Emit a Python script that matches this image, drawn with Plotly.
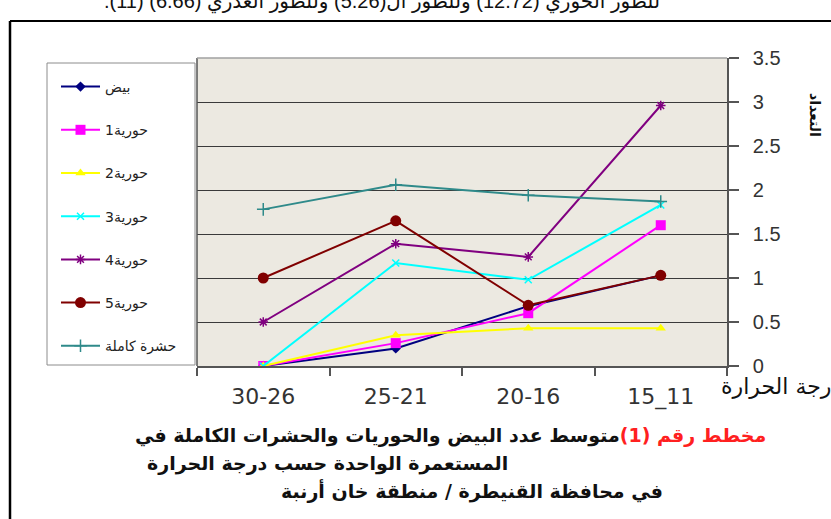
import plotly.graph_objects as go

# ---------------- data ----------------
categories = ["30-26", "25-21", "20-16", "15_11"]
eggs = [0.0, 0.20, 0.68, 1.03]
nymph1 = [0.0, 0.26, 0.60, 1.60]
nymph2 = [0.0, 0.35, 0.43, 0.43]
nymph3 = [0.0, 1.17, 0.98, 1.83]
nymph4 = [0.5, 1.39, 1.24, 2.96]
nymph5 = [1.0, 1.65, 0.69, 1.03]
adult = [1.78, 2.06, 1.94, 1.87]
series_names = ["بيض", "حورية1", "حورية2", "حورية3", "حورية4", "حورية5", "حشرة كاملة"]
y_ticks = [0, 0.5, 1, 1.5, 2, 2.5, 3, 3.5]
x_title = "درجة الحرارة"
y_title = "التعداد"
caption_red = "مخطط رقم (1)"
caption_line1 = "متوسط عدد البيض والحوريات والحشرات الكاملة في"
caption_line2 = "المستعمرة الواحدة حسب درجة الحرارة"
caption_line3 = "في محافظة القنيطرة / منطقة خان أرنبة"
top_text = "للطور الحوري (12.72) وللطور ال(5.26) وللطور العذري (6.66) (11)."

# ---------------- styles ----------------
series_values = [eggs, nymph1, nymph2, nymph3, nymph4, nymph5, adult]
colors = ["#000080", "#FF00FF", "#FFFF00", "#00FFFF", "#800080", "#800000", "#2F8A8A"]
symbols = ["diamond", "square", "triangle-up", "x-thin-open", "asterisk-open", "circle", "cross-thin-open"]
sizes = [8, 10, 9, 7, 8, 11, 9]
RLM = "\u200f"

W, H = 831, 519
L, R, T, B = 197, 727, 58, 366
PW, PH = R - L, B - T


def px(x):
    return (x - L) / PW


def py(y):
    return (B - y) / PH


fig = go.Figure()
for i, (name, vals) in enumerate(zip(series_names, series_values)):
    open_sym = symbols[i].endswith("open")
    fig.add_trace(go.Scatter(
        x=categories, y=vals, name=name, mode="lines+markers",
        legendgroup=f"g{i}",
        line=dict(color=colors[i], width=2),
        marker=dict(symbol=symbols[i], size=sizes[i], color=colors[i],
                    line=dict(color=colors[i], width=1.5 if open_sym else 0)),
    ))

arabic_font = "DejaVu Sans"

shapes = [
    # outer frame (left and top edges visible)
    dict(type="line", xref="paper", yref="paper", x0=px(10), x1=px(845), y0=py(21), y1=py(21),
         line=dict(color="black", width=2)),
    dict(type="line", xref="paper", yref="paper", x0=px(10), x1=px(10), y0=py(21), y1=py(530),
         line=dict(color="black", width=2.5)),
    # legend box
    dict(type="rect", xref="paper", yref="paper", x0=px(47), x1=px(195), y0=py(63), y1=py(365),
         line=dict(color="#8c8c8c", width=1), fillcolor="white", layer="below"),
    # plot area left and top edges
    dict(type="line", xref="paper", yref="paper", x0=0, x1=0, y0=0, y1=1,
         line=dict(color="#555555", width=1.5)),
    dict(type="line", xref="paper", yref="paper", x0=0, x1=1, y0=1, y1=1,
         line=dict(color="#a0a0a0", width=1.5)),
]

cap_font = dict(family=arabic_font, size=19, color="#111")
line1_text = (RLM + "<span style='color:#FF2020'>" + caption_red + "</span>"
              + caption_line1 + RLM)
annotations = [
    dict(text=x_title, xref="paper", yref="paper", x=px(719), y=py(386), xanchor="left",
         yanchor="middle", showarrow=False, font=dict(family=arabic_font, size=22, color="#111")),
    dict(text="<b>" + y_title + "</b>", xref="paper", yref="paper", x=px(815), y=py(115),
         xanchor="center", yanchor="middle", showarrow=False, textangle=90,
         font=dict(family=arabic_font, size=14, color="#111")),
    dict(text="<b>" + line1_text + "</b>", xref="paper", yref="paper", x=px(768), y=py(435),
         xanchor="right", yanchor="middle", showarrow=False, font=cap_font),
    dict(text="<b>" + caption_line2 + "</b>", xref="paper", yref="paper", x=px(510), y=py(463),
         xanchor="right", yanchor="middle", showarrow=False, font=cap_font),
    dict(text="<b>" + caption_line3 + "</b>", xref="paper", yref="paper", x=px(665), y=py(491),
         xanchor="right", yanchor="middle", showarrow=False, font=cap_font),
    dict(text=RLM + top_text + RLM, xref="paper", yref="paper", x=px(662), y=py(2), xanchor="right",
         yanchor="middle", showarrow=False,
         font=dict(family="Liberation Sans, DejaVu Sans", size=20, color="#111")),
]

fig.update_layout(
    width=W, height=H,
    margin=dict(l=L, r=W - R, t=T, b=H - B, pad=0),
    paper_bgcolor="white",
    plot_bgcolor="#ECE9E1",
    showlegend=True,
    legend=dict(
        xref="container", yref="container", x=56 / W, y=1 - 71 / H,
        xanchor="left", yanchor="top",
        bgcolor="rgba(0,0,0,0)", borderwidth=0,
        traceorder="grouped", tracegroupgap=22, itemwidth=39,
        maxheight=600,
        font=dict(family=arabic_font, size=14, color="#222"),
    ),
    xaxis=dict(
        type="category", categoryorder="array", categoryarray=categories,
        range=[-0.5, 3.5],
        tickson="boundaries", ticks="outside", ticklen=8, tickcolor="#555", tickwidth=1.5,
        showline=True, linecolor="#555", linewidth=1.5, showgrid=False,
        tickfont=dict(family="DejaVu Sans", size=22, color="#333"),
        ticklabelstandoff=10,
    ),
    yaxis=dict(
        side="right", range=[0, 3.5], tickvals=y_ticks, ticks="outside", ticklen=10,
        tickcolor="#555", tickwidth=1.5,
        showline=True, linecolor="#555", linewidth=1.5,
        showgrid=True, gridcolor="#3a3a3a", gridwidth=1, zeroline=False,
        tickfont=dict(family="Liberation Sans", size=20, color="#333"),
        ticklabelstandoff=10,
    ),
    shapes=shapes,
    annotations=annotations,
)

fig.write_html(
    "out.html",
    config={"displayModeBar": False},
    post_script="document.body.style.margin='0';document.body.style.overflow='hidden';",
)
